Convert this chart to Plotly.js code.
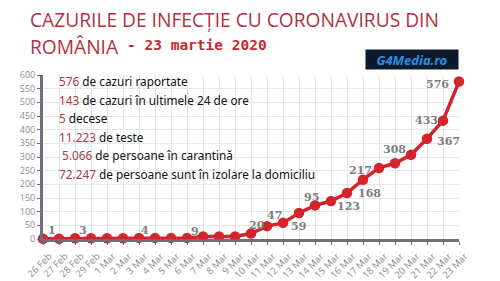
<!DOCTYPE html>
<html>
<head>
<meta charset="utf-8">
<script src="https://cdn.plot.ly/plotly-3.0.1.min.js"></script>
<style>html,body{margin:0;padding:0;background:#fff;}#chart{width:500px;height:281px;}</style>
</head>
<body>
<div id="chart"></div>
<script>
// ---- data ----
const dates = ['26 Feb','27 Feb','28 Feb','29 Feb','1 Mar','2 Mar','3 Mar','4 Mar','5 Mar','6 Mar','7 Mar','8 Mar','9 Mar','10 Mar','11 Mar','12 Mar','13 Mar','14 Mar','15 Mar','16 Mar','17 Mar','18 Mar','19 Mar','20 Mar','21 Mar','22 Mar','23 Mar'];
const cases = [1,1,3,3,3,3,4,4,4,4,9,9,9,20,47,59,95,123,139,168,217,260,277,308,367,433,576];
const labelledDates = ['26 Feb','28 Feb','3 Mar','7 Mar','10 Mar','11 Mar','12 Mar','13 Mar','14 Mar','16 Mar','17 Mar','20 Mar','21 Mar','22 Mar','23 Mar'];
const yTicks = [0,50,100,150,200,250,300,350,400,450,500,550,600];
const titleLine1 = 'CAZURILE DE INFECȚIE CU CORONAVIRUS DIN';
const titleLine2 = 'ROMÂNIA';
const titleDate = '- 23 martie 2020';
const statNumbers = ['576','143','5','11.223','\u00A05.066','72.247'];
const statTexts = [' de cazuri raportate',' de cazuri în ultimele 24 de ore',' decese',' de teste',' de persoane în carantină',' de persoane sunt în izolare la domiciliu'];
const logoText = 'G4Media.ro';

// ---- layout geometry ----
const L = 43, R = 41, T = 75, B = 42, W = 500, H = 281;
const pw = W - L - R, ph = H - T - B;
const px = x => (x - L) / pw;
const py = y => (H - B - y) / ph;

// label offsets in pixels (dx, dy screen-down)
const labelOffsets = [[9,-8],[7.5,-8],[6,-7],[-8,-5.5],[6,-8],[7,-11],[15,4],[12,-16],[33,1.5],[22,0],[-3,-9],[-17,-5],[21,3],[-17,0],[-22,3]];

const annotations = [];
labelledDates.forEach((d, k) => {
  const i = dates.indexOf(d);
  annotations.push({
    x: d, y: cases[i], xref: 'x', yref: 'y', showarrow: false,
    text: String(cases[i]), xshift: labelOffsets[k][0], yshift: -labelOffsets[k][1],
    font: {family: 'DejaVu Serif', size: 11, color: '#7d7d7d', weight: 'bold'}
  });
});

const titleColor = '#b3303f';
annotations.push({xref:'paper', yref:'paper', x: px(28), y: py(20), xanchor:'left', yanchor:'middle', showarrow:false,
  text: titleLine1, font:{family:'Open Sans', size:19.2, color: titleColor}});
annotations.push({xref:'paper', yref:'paper', x: px(28), y: py(46), xanchor:'left', yanchor:'middle', showarrow:false,
  text: titleLine2, font:{family:'Open Sans', size:19.2, color: titleColor}});
annotations.push({xref:'paper', yref:'paper', x: px(125), y: py(45), xanchor:'left', yanchor:'middle', showarrow:false,
  text: titleDate, font:{family:'DejaVu Sans Mono', size:14.5, color:'#c62a2f', weight:'bold'}});

const lineYs = [81, 99.5, 118, 136.5, 155, 173.5];
statNumbers.forEach((n, i) => {
  annotations.push({xref:'paper', yref:'paper', x: px(57), y: py(lineYs[i]), xanchor:'left', yanchor:'middle', showarrow:false,
    text: '<span style="color:#a83a45">' + n + '</span>' + statTexts[i],
    font:{family:'Noto Sans', size:11.8, color:'#111111'}});
});

annotations.push({xref:'paper', yref:'paper', x: px(412), y: py(59.5), xanchor:'center', yanchor:'middle', showarrow:false,
  text: '<b><i>' + logoText + '</i></b>', bgcolor:'#0c1a2c', width: 92, height: 19, borderpad: 0,
  font:{family:'Noto Sans', size:13, color:'#2b8de4'}});

const trace = {
  x: dates, y: cases, type: 'scatter', mode: 'lines+markers',
  line: {color: '#d5232b', width: 3.5},
  marker: {color: '#d5232b', size: 10.5},
  cliponaxis: false, hoverinfo: 'skip'
};

const layout = {
  width: W, height: H,
  margin: {l: L, r: R, t: T, b: B, pad: 0},
  paper_bgcolor: '#ffffff', plot_bgcolor: '#ffffff',
  showlegend: false,
  xaxis: {
    type: 'category', range: [0, dates.length - 1],
    showgrid: true, gridcolor: '#e6e6e6', gridwidth: 1,
    showline: true, linecolor: '#6e6e78', linewidth: 3,
    ticks: 'outside', ticklen: 3, tickcolor: '#6e6e78', tickwidth: 1,
    tickangle: -45, tickfont: {family: 'Open Sans', size: 9.5, color: '#8c8c8c'},
    ticklabelshift: 6, ticklabelstandoff: 2,
    zeroline: false, fixedrange: true
  },
  yaxis: {
    range: [0, 600], tickvals: yTicks, ticktext: yTicks.map(String),
    showgrid: true, gridcolor: '#e6e6e6', gridwidth: 1,
    showline: true, linecolor: '#6e6e78', linewidth: 3,
    ticks: 'outside', ticklen: 3, tickcolor: '#6e6e78', tickwidth: 1,
    tickfont: {family: 'Open Sans', size: 9, color: '#8c8c8c'},
    zeroline: false, fixedrange: true
  },
  annotations: annotations
};

Plotly.newPlot('chart', [trace], layout, {displayModeBar: false, staticPlot: true});
</script>
</body>
</html>
